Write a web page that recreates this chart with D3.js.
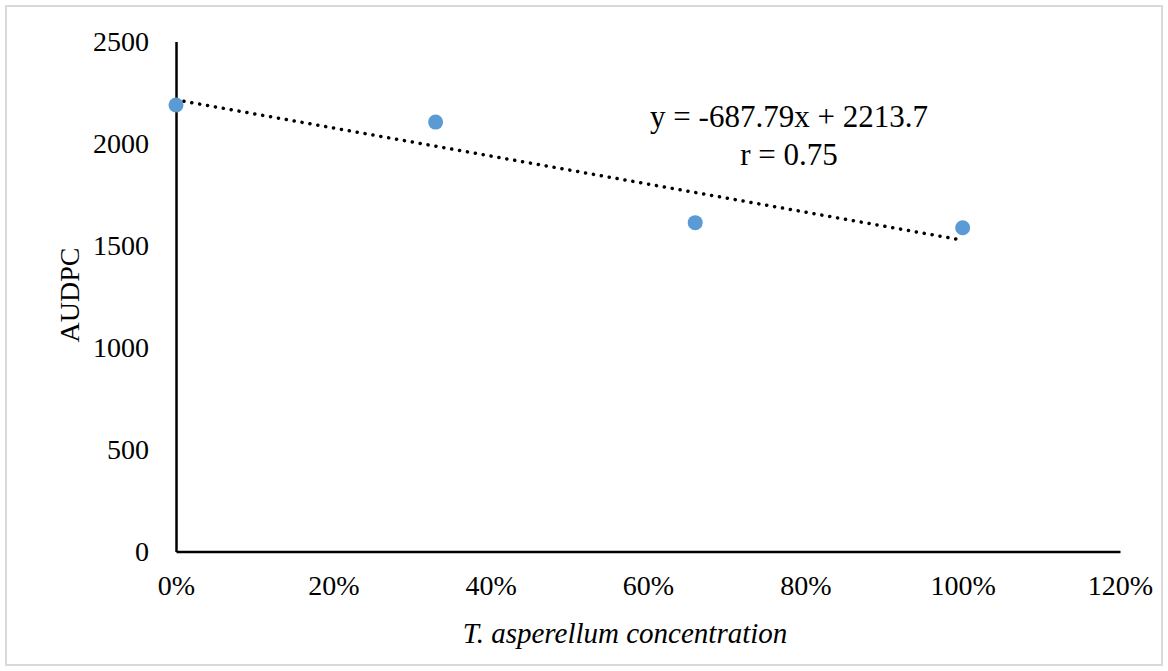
<!DOCTYPE html>
<meta charset="utf-8">
<style>
body { margin: 0; background: #fff; }
svg text { font-family: "Liberation Serif", "Times New Roman", serif; fill: #000; }
</style>
<script src="https://d3js.org/d3.v7.min.js"></script>
<body>
<div id="chart"></div>
<script>
// data
var concentrations = [0, 0.33, 0.66, 1.0];
var audpc = [2189, 2105, 1612, 1587];
var xTicks = [0, 0.2, 0.4, 0.6, 0.8, 1.0, 1.2];
var yTicks = [0, 500, 1000, 1500, 2000, 2500];
var trend = { slope: -687.79, intercept: 2213.7, r: 0.75 };

var W = 1168, H = 671;
var margin = {top: 41.5, right: 48, bottom: 119.5, left: 176};
var width = W - margin.left - margin.right,
    height = H - margin.top - margin.bottom;

var svg = d3.select("#chart").append("svg")
    .attr("width", W)
    .attr("height", H);

// outer frame
svg.append("rect")
    .attr("x", 6).attr("y", 6)
    .attr("width", W - 12).attr("height", H - 12)
    .attr("fill", "none")
    .attr("stroke", "#d9d9d9")
    .attr("stroke-width", 2);

var g = svg.append("g")
    .attr("transform", "translate(" + margin.left + "," + margin.top + ")");

var x = d3.scaleLinear().domain([0, 1.2]).range([0, width]);
var y = d3.scaleLinear().domain([0, 2500]).range([height, 0]);

// X axis
var xAxis = g.append("g")
    .attr("transform", "translate(0," + height + ")")
    .call(d3.axisBottom(x).tickValues(xTicks).tickSize(0)
        .tickFormat(d3.format(".0%")));
xAxis.select(".domain").attr("stroke", "#000").attr("stroke-width", 2.5);
xAxis.selectAll("text").style("font-size", "28px").attr("y", 43.5).attr("dy", 0);

// Y axis
var yAxis = g.append("g")
    .call(d3.axisLeft(y).tickValues(yTicks).tickSize(0).tickPadding(27)
        .tickFormat(d3.format("d")));
yAxis.select(".domain").attr("stroke", "#000").attr("stroke-width", 2.5);
yAxis.selectAll("text").style("font-size", "28px").attr("dy", "0.33em");

// trendline
var trendData = [0, d3.max(concentrations)].map(function (c) {
    return [c, trend.slope * c + trend.intercept];
});
g.append("path")
    .datum(trendData)
    .attr("fill", "none")
    .attr("stroke", "#000")
    .attr("stroke-width", 3.5)
    .attr("stroke-linecap", "round")
    .attr("stroke-dasharray", "0.1,7.9")
    .attr("d", d3.line()
        .x(function (d) { return x(d[0]); })
        .y(function (d) { return y(d[1]); }));

// dots
g.append("g")
    .selectAll("circle")
    .data(concentrations)
    .enter()
    .append("circle")
    .attr("cx", function (d) { return x(d); })
    .attr("cy", function (d, i) { return y(audpc[i]); })
    .attr("r", 7.5)
    .style("fill", "#5b9bd5");

// equation label
var eq = svg.append("text")
    .attr("text-anchor", "middle")
    .style("font-size", "31px")
    .attr("transform", "translate(789,127)");
eq.append("tspan").attr("x", 0).attr("y", 0)
    .text("y = " + trend.slope + "x + " + trend.intercept);
eq.append("tspan").attr("x", 0).attr("y", 38)
    .text("r = " + trend.r);

// axis titles
svg.append("text")
    .attr("x", 625)
    .attr("y", 643)
    .attr("text-anchor", "middle")
    .style("font-size", "29px")
    .style("font-style", "italic")
    .text("T. asperellum concentration");

svg.append("text")
    .attr("transform", "translate(79,295) rotate(-90)")
    .attr("text-anchor", "middle")
    .style("font-size", "28px")
    .text("AUDPC");
</script>
</body>
